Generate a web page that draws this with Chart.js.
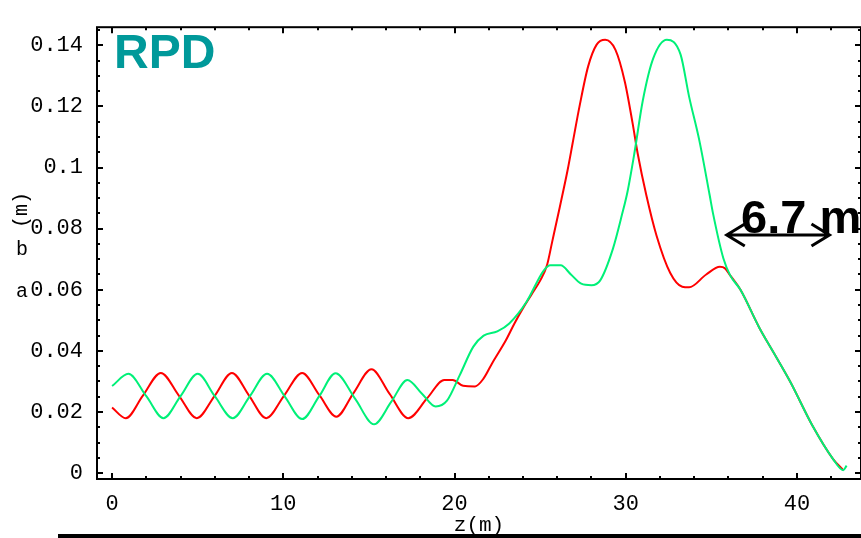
<!DOCTYPE html>
<html>
<head>
<meta charset="utf-8">
<script src="https://cdn.jsdelivr.net/npm/chart.js@4.4.0/dist/chart.umd.min.js"></script>
<style>
  html, body { margin: 0; padding: 0; background: #fff; }
  #wrap { width: 861px; height: 538px; }
</style>
</head>
<body>
<div id="wrap"><canvas id="chart" width="861" height="538"></canvas></div>
<script>
// a (red) vs z
const redZ = [0, 0.8, 1.8, 2.85, 3.9, 4.95, 6.0, 7.0, 8.0, 9.0, 10.05, 11.1, 12.1, 13.1, 14.1, 15.15, 16.2, 17.3,
    18.4, 19.4, 19.9, 20.5, 21.2, 21.7, 22.2, 23.0, 23.5, 24.0, 24.5, 25.0, 25.4, 25.7, 26.15, 26.6, 26.9, 27.3,
    27.8, 28.3, 28.8, 29.4, 29.95, 30.4, 30.7, 31.2, 31.8, 32.6, 33.3, 33.7, 34.7, 35.5, 35.8, 36.1, 36.7, 37.8,
    38.6, 39.6, 40.9, 42.1, 42.7];
const redA = [0.0215, 0.018, 0.0254, 0.0328, 0.0254, 0.018, 0.0254, 0.0328, 0.0254, 0.018, 0.0254, 0.0328, 0.0256,
    0.0185, 0.0262, 0.034, 0.026, 0.018, 0.0245, 0.0305, 0.0305, 0.0286, 0.0284, 0.031, 0.036, 0.0435, 0.049, 0.054,
    0.0585, 0.063, 0.068, 0.0756, 0.0871, 0.099, 0.108, 0.12, 0.133, 0.1402, 0.1418, 0.1385, 0.128, 0.1145, 0.1045,
    0.091, 0.0777, 0.0655, 0.061, 0.0608, 0.065, 0.0675, 0.067, 0.0647, 0.06, 0.0476, 0.0398, 0.03, 0.0156, 0.0047,
    0.001];

// b (green) vs z
const greenZ = [0, 0.95, 2.0, 3.0, 4.0, 5.0, 6.0, 7.05, 8.05, 9.05, 10.1, 11.1, 12.1, 13.05, 14.2, 15.3, 16.3, 17.25,
    18.1, 18.9, 19.56, 20.3, 21.1, 21.7, 22.5, 23.2, 24.2, 25.2, 25.6, 26.2, 26.8, 27.4, 28.0, 28.5, 29.25, 29.8,
    30.1, 30.5, 31.0, 31.6, 32.4, 33.2, 33.7, 34.3, 34.9, 35.1, 35.7, 36.1, 36.7, 37.8, 38.6, 39.6, 40.9, 42.1,
    42.7, 42.9];
const greenB = [0.0285, 0.0325, 0.0252, 0.018, 0.0252, 0.0325, 0.0252, 0.018, 0.0252, 0.0325, 0.025, 0.0177, 0.0252,
    0.0327, 0.0243, 0.016, 0.0233, 0.0305, 0.026, 0.0218, 0.0237, 0.032, 0.0414, 0.045, 0.0464, 0.049, 0.056,
    0.0662, 0.068, 0.068, 0.065, 0.062, 0.0615, 0.063, 0.0734, 0.085, 0.092, 0.1045, 0.122, 0.1356, 0.1418, 0.137,
    0.1232, 0.1088, 0.091, 0.0849, 0.0703, 0.0647, 0.06, 0.0476, 0.0398, 0.03, 0.0156, 0.0047, 0.001, 0.0025];

const xTicks = [0, 10, 20, 30, 40];
const yTicks = [0, 0.02, 0.04, 0.06, 0.08, 0.1, 0.12, 0.14];

const monoFont = "'Liberation Mono', 'DejaVu Sans Mono', monospace";
const sansFont = "'Liberation Sans', Arial, sans-serif";

function toPoints(xs, ys) {
    return xs.map((x, i) => ({ x: x, y: ys[i] }));
}

// frame, inward ticks and the text annotations
const framePlugin = {
    id: 'frame',
    afterDraw(chart) {
        const ctx = chart.ctx;
        const a = chart.chartArea;
        const sx = chart.scales.x;
        const sy = chart.scales.y;
        ctx.save();
        ctx.strokeStyle = '#000';
        ctx.lineWidth = 2;
        ctx.strokeRect(a.left, a.top, a.right - a.left, a.bottom - a.top);

        // ticks: minor every 2 on z, every 0.005 on y
        ctx.lineWidth = 2;
        ctx.beginPath();
        for (let v = 0; v <= 43; v += 2) {
            const px = Math.round(sx.getPixelForValue(v));
            const len = v % 10 === 0 ? 6 : 3;
            ctx.moveTo(px, a.bottom); ctx.lineTo(px, a.bottom - len);
            ctx.moveTo(px, a.top); ctx.lineTo(px, a.top + len);
        }
        for (let i = 0; i <= 29; i++) {
            const v = i * 0.005;
            const py = Math.round(sy.getPixelForValue(v));
            const len = i % 4 === 0 ? 6 : 3;
            ctx.moveTo(a.left, py); ctx.lineTo(a.left + len, py);
            ctx.moveTo(a.right, py); ctx.lineTo(a.right - len, py);
        }
        ctx.stroke();

        // y axis label: "a", "b" and a rotated "(m)"
        ctx.fillStyle = '#000';
        ctx.font = '20px ' + monoFont;
        ctx.textAlign = 'center';
        ctx.textBaseline = 'middle';
        ctx.fillText('a', 22, 292);
        ctx.fillText('b', 22, 250);
        ctx.save();
        ctx.translate(22, 210);
        ctx.rotate(-Math.PI / 2);
        ctx.fillText('(m)', 0, 0);
        ctx.restore();

        // RPD label
        ctx.fillStyle = '#00999a';
        ctx.font = 'bold 48px ' + sansFont;
        ctx.textAlign = 'left';
        ctx.textBaseline = 'alphabetic';
        ctx.fillText('RPD', 114, 68);

        // 6.7 m arrow
        ctx.fillStyle = '#000';
        ctx.font = 'bold 47px ' + sansFont;
        ctx.fillText('6.7 m', 741, 233);
        const x1 = sx.getPixelForValue(35.9);
        const x2 = sx.getPixelForValue(41.9);
        const ay = 235;
        ctx.strokeStyle = '#000';
        ctx.lineWidth = 3;
        ctx.beginPath();
        ctx.moveTo(x1, ay); ctx.lineTo(x2, ay);
        ctx.moveTo(x1 + 18, ay - 11); ctx.lineTo(x1, ay); ctx.lineTo(x1 + 18, ay + 11);
        ctx.moveTo(x2 - 18, ay - 11); ctx.lineTo(x2, ay); ctx.lineTo(x2 - 18, ay + 11);
        ctx.stroke();

        // black rule under the plot
        ctx.fillStyle = '#000';
        ctx.fillRect(58, 534, 803, 4);
        ctx.restore();
    }
};

new Chart(document.getElementById('chart').getContext('2d'), {
    type: 'scatter',
    data: {
        datasets: [
            {
                label: 'b',
                data: toPoints(greenZ, greenB),
                showLine: true,
                borderColor: '#00f078',
                borderWidth: 2,
                pointRadius: 0,
                cubicInterpolationMode: 'monotone'
            },
            {
                label: 'a',
                data: toPoints(redZ, redA),
                showLine: true,
                borderColor: '#ff0000',
                borderWidth: 2,
                pointRadius: 0,
                cubicInterpolationMode: 'monotone'
            }
        ]
    },
    plugins: [framePlugin],
    options: {
        responsive: false,
        animation: false,
        devicePixelRatio: 1,
        layout: { padding: { top: 6, right: 0, left: 0, bottom: 0 } },
        plugins: {
            legend: { display: false },
            tooltip: { enabled: false }
        },
        scales: {
            x: {
                type: 'linear',
                min: -0.88,
                max: 43.74,
                grid: { display: false, drawTicks: false },
                border: { display: false },
                afterFit: scale => { scale.height = 59; },
                afterBuildTicks: scale => { scale.ticks = xTicks.map(v => ({ value: v })); },
                ticks: {
                    color: '#000',
                    padding: 12,
                    maxRotation: 0,
                    font: { family: monoFont, size: 22 },
                    callback: v => String(v)
                },
                title: {
                    display: true,
                    text: 'z(m)',
                    color: '#000',
                    padding: { top: 0, bottom: 0 },
                    font: { family: monoFont, size: 21 }
                }
            },
            y: {
                type: 'linear',
                min: -0.0019,
                max: 0.1459,
                grid: { display: false, drawTicks: false },
                border: { display: false },
                afterFit: scale => { scale.width = 97; },
                afterBuildTicks: scale => { scale.ticks = yTicks.map(v => ({ value: v })); },
                ticks: {
                    color: '#000',
                    padding: 14,
                    font: { family: monoFont, size: 22 },
                    callback: v => String(v)
                }
            }
        }
    }
});
</script>
</body>
</html>
